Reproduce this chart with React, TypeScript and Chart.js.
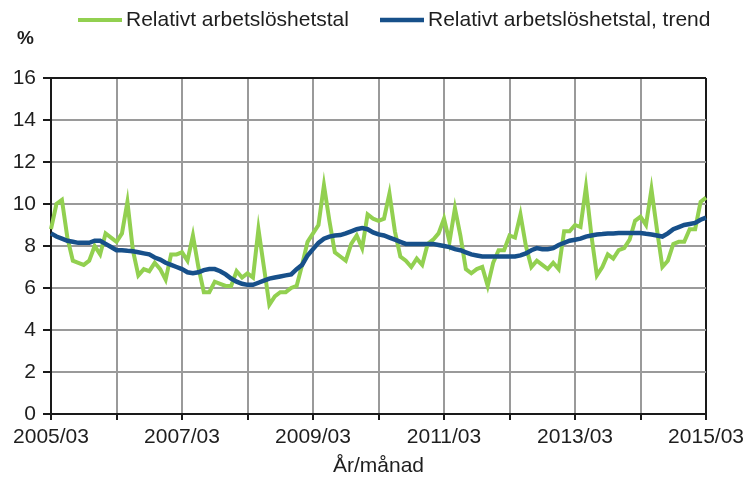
import React, { useEffect, useRef } from 'react';
import { Chart, registerables } from 'chart.js';

Chart.register(...registerables);

// ---- data ----
const startYear = 2005;
const startMonth = 3;
const monthCount = 121;
const categories: string[] = [];
for (let k = 0; k < monthCount; k++) {
  const m = startMonth - 1 + k;
  const y = startYear + Math.floor(m / 12);
  const mm = (m % 12) + 1;
  categories.push(`${y}/${mm < 10 ? '0' + mm : mm}`);
}

const seriesLabels = ['Relativt arbetslöshetstal', 'Relativt arbetslöshetstal, trend'];

const unemployment: number[] = [
  8.8, 10.0, 10.2, 8.4, 7.3, 7.2, 7.1, 7.3, 8.0, 7.6, 8.6, 8.4,
  8.2, 8.6, 10.1, 7.8, 6.6, 6.9, 6.8, 7.2, 6.9, 6.4, 7.6, 7.6,
  7.7, 7.3, 8.5, 7.0, 5.8, 5.8, 6.3, 6.2, 6.1, 6.1, 6.8, 6.5,
  6.7, 6.5, 8.8, 7.0, 5.2, 5.6, 5.8, 5.8, 6.0, 6.1, 7.1, 8.2,
  8.6, 9.0, 10.9, 9.2, 7.7, 7.5, 7.3, 8.1, 8.5, 7.9, 9.5, 9.3,
  9.2, 9.3, 10.5, 8.7, 7.5, 7.3, 7.0, 7.4, 7.1, 8.1, 8.3, 8.6,
  9.3, 8.2, 9.8, 8.5, 6.9, 6.7, 6.9, 7.0, 6.1, 7.2, 7.8, 7.8,
  8.5, 8.4, 9.5, 8.0, 7.0, 7.3, 7.1, 6.9, 7.2, 6.9, 8.7, 8.7,
  9.0, 8.9, 10.8, 8.5, 6.6, 7.0, 7.6, 7.4, 7.8, 7.9, 8.3, 9.2,
  9.4, 9.0, 10.7, 8.8, 7.0, 7.3, 8.1, 8.2, 8.2, 8.8, 8.8, 10.1,
  10.3,
];

const trend: number[] = [
  8.6, 8.45, 8.35, 8.25, 8.2, 8.15, 8.15, 8.15, 8.25, 8.25, 8.1, 7.95,
  7.8, 7.8, 7.77, 7.75, 7.7, 7.65, 7.6, 7.45, 7.35, 7.2, 7.1, 7.0,
  6.9, 6.75, 6.7, 6.75, 6.85, 6.9, 6.9, 6.8, 6.65, 6.45, 6.3, 6.2,
  6.15, 6.15, 6.25, 6.35, 6.45, 6.5, 6.55, 6.6, 6.65, 6.9, 7.1, 7.55,
  7.85, 8.15, 8.35, 8.45, 8.5, 8.52, 8.6, 8.7, 8.8, 8.85, 8.8, 8.65,
  8.55, 8.5, 8.4, 8.3, 8.2, 8.1, 8.1, 8.1, 8.1, 8.1, 8.1, 8.05,
  8.0, 7.95, 7.85, 7.8, 7.7, 7.6, 7.55, 7.5, 7.5, 7.5, 7.5, 7.5,
  7.5, 7.5, 7.55, 7.65, 7.8, 7.9, 7.85, 7.85, 7.9, 8.05, 8.15, 8.25,
  8.3, 8.35, 8.45, 8.5, 8.55, 8.57, 8.6, 8.6, 8.62, 8.62, 8.62, 8.62,
  8.62, 8.58, 8.55, 8.5, 8.45, 8.6, 8.8, 8.9, 9.0, 9.05, 9.1, 9.25,
  9.35,
];

const yTicks: number[] = [0, 2, 4, 6, 8, 10, 12, 14, 16];
const unitLabel = '%';
const xTitle = 'År/månad';

// ---- styles ----
const FONT = '"Liberation Sans", Arial, sans-serif';
const TEXT = '#1e1e1e';
const GREEN = '#92D050';
const BLUE = '#17508A';
const GRID = '#9a9a9a';
const BORDER = '#1a1a1a';

const legendPlugin = {
  id: 'customLegend',
  afterDraw(chart: any) {
    const ctx = chart.ctx as CanvasRenderingContext2D;
    ctx.save();
    const y = 20;
    const items = [
      { x0: 78, x1: 122, tx: 126, color: GREEN, w: 4, label: chart.data.datasets[0].label },
      { x0: 380, x1: 424, tx: 428, color: BLUE, w: 4.5, label: chart.data.datasets[1].label },
    ];
    items.forEach((it) => {
      ctx.beginPath();
      ctx.strokeStyle = it.color;
      ctx.lineWidth = it.w;
      ctx.lineCap = 'butt';
      ctx.moveTo(it.x0, y);
      ctx.lineTo(it.x1, y);
      ctx.stroke();
      ctx.fillStyle = TEXT;
      ctx.font = `21px ${FONT}`;
      ctx.textBaseline = 'middle';
      ctx.textAlign = 'left';
      ctx.fillText(it.label, it.tx, y);
    });
    ctx.font = `bold 19px ${FONT}`;
    ctx.textAlign = 'left';
    ctx.textBaseline = 'middle';
    ctx.fillText(unitLabel, 17, 39);
    ctx.restore();
  },
};

export default function App() {
  const ref = useRef<HTMLCanvasElement | null>(null);

  useEffect(() => {
    document.body.style.margin = '0';
    const canvas = ref.current;
    if (!canvas) return;
    const lastIndex = categories.length - 1;
    const chart = new Chart(canvas, {
      type: 'line',
      data: {
        labels: categories,
        datasets: [
          {
            label: seriesLabels[0],
            data: unemployment,
            borderColor: GREEN,
            backgroundColor: GREEN,
            borderWidth: 4,
            pointRadius: 0,
            tension: 0,
            order: 2,
          },
          {
            label: seriesLabels[1],
            data: trend,
            borderColor: BLUE,
            backgroundColor: BLUE,
            borderWidth: 4.5,
            pointRadius: 0,
            tension: 0,
            order: 1,
          },
        ],
      },
      options: {
        responsive: false,
        animation: false,
        maintainAspectRatio: false,
        layout: { padding: { top: 78, right: 40, bottom: 0, left: 0 } },
        plugins: {
          legend: { display: false },
          tooltip: { enabled: false },
          title: { display: false },
        },
        scales: {
          x: {
            type: 'category',
            offset: false,
            afterFit: (scale: any) => {
              scale.height = 65;
            },
            grid: {
              display: true,
              drawOnChartArea: true,
              drawTicks: true,
              tickLength: 6,
              lineWidth: 2,
              color: (ctx: any) =>
                ctx.index % 12 === 0 ? (ctx.index === lastIndex ? BORDER : GRID) : 'rgba(0,0,0,0)',
              tickColor: (ctx: any) => (ctx.index % 12 === 0 ? BORDER : 'rgba(0,0,0,0)'),
            },
            border: { display: true, color: BORDER, width: 2 },
            ticks: {
              autoSkip: false,
              maxRotation: 0,
              minRotation: 0,
              padding: 5,
              color: TEXT,
              font: { family: FONT, size: 21 },
              callback: (_v: any, i: number) => (i % 24 === 0 ? categories[i] : ''),
            },
            title: {
              display: true,
              text: xTitle,
              color: TEXT,
              font: { family: FONT, size: 21 },
              padding: { top: 0, bottom: 0 },
            },
          },
          y: {
            type: 'linear',
            min: yTicks[0],
            max: yTicks[yTicks.length - 1],
            afterFit: (scale: any) => {
              scale.width = 51;
            },
            afterBuildTicks: (scale: any) => {
              scale.ticks = yTicks.map((v) => ({ value: v }));
            },
            grid: {
              lineWidth: 2,
              tickLength: 8,
              color: (ctx: any) => (ctx.tick && ctx.tick.value === yTicks[yTicks.length - 1] ? BORDER : GRID),
              tickColor: BORDER,
            },
            border: { display: true, color: BORDER, width: 2 },
            ticks: {
              padding: 7,
              color: TEXT,
              font: { family: FONT, size: 21 },
            },
          },
        },
      },
      plugins: [legendPlugin],
    } as any);
    return () => chart.destroy();
  }, []);

  return (
    <div style={{ position: 'fixed', left: 0, top: 0, width: 749, height: 479, background: '#fff' }}>
      <canvas ref={ref} width={749} height={479} style={{ width: 749, height: 479, display: 'block' }} />
    </div>
  );
}
